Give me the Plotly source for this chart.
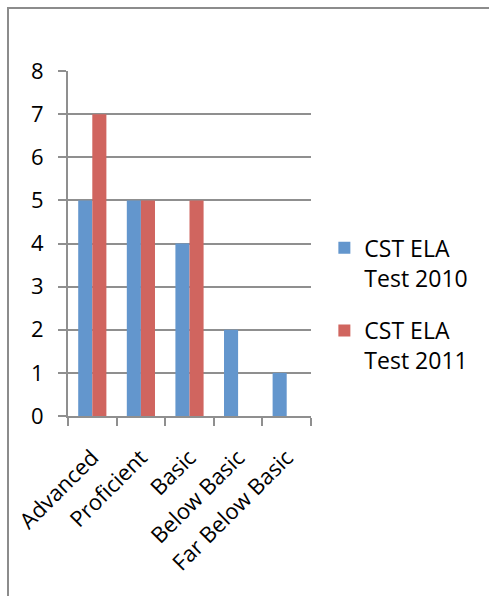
import plotly.graph_objects as go

categories = ["Advanced", "Proficient", "Basic", "Below Basic", "Far Below Basic"]
series_names = ["CST ELA<br>Test 2010", "CST ELA<br>Test 2011"]
values_2010 = [5, 5, 4, 2, 1]
values_2011 = [7, 5, 5, 0, 0]
y_ticks = [0, 1, 2, 3, 4, 5, 6, 7, 8]

colors = ["#6396cd", "#d0655f"]
FONT = "Open Sans"
GRID = "#8f8f8f"

fig = go.Figure()
for name, vals, col, grp in zip(series_names, [values_2010, values_2011], colors, ["a", "b"]):
    fig.add_trace(go.Bar(x=categories, y=vals, name=name, marker=dict(color=col, line=dict(width=0)),
                         legendgroup=grp))

W, H = 489, 596
L, R, T, B = 68, 178, 71, 180
pw, ph = W - L - R, H - T - B

fig.update_layout(
    width=W, height=H,
    margin=dict(l=L, r=R, t=T, b=B, pad=0),
    paper_bgcolor="white", plot_bgcolor="white",
    barmode="group", bargap=0.42, bargroupgap=0,
    font=dict(family=FONT, size=22, color="black"),
    showlegend=True,
    legend=dict(x=1.055, xanchor="left", y=0.55, yanchor="top",
                font=dict(size=23, family=FONT), traceorder="grouped",
                tracegroupgap=20, valign="top", itemwidth=30,
                bgcolor="rgba(0,0,0,0)"),
    shapes=[dict(type="rect", xref="paper", yref="paper",
                 x0=(8 - L) / pw, x1=3, y0=-3, y1=(H - B - 8) / ph,
                 line=dict(color="#8c8c8c", width=2), fillcolor="rgba(0,0,0,0)", layer="below")],
)
fig.update_xaxes(
    type="category", showgrid=False, showline=True, linecolor=GRID, linewidth=2,
    ticks="outside", tickson="boundaries", ticklen=8, tickwidth=2, tickcolor=GRID,
    tickangle=-45, tickfont=dict(size=22, family=FONT), ticklabelstandoff=18,
)
fig.update_yaxes(
    range=[0, 8], tickvals=y_ticks, showgrid=True, gridcolor=GRID, gridwidth=2,
    showline=True, linecolor=GRID, linewidth=2, zeroline=False,
    ticks="outside", ticklen=8, tickwidth=2, tickcolor=GRID,
    ticklabelstandoff=10, tickfont=dict(size=22, family=FONT),
)

fig.write_html("out.html", config={"displayModeBar": False},
               post_script="document.body.style.margin='0';")
